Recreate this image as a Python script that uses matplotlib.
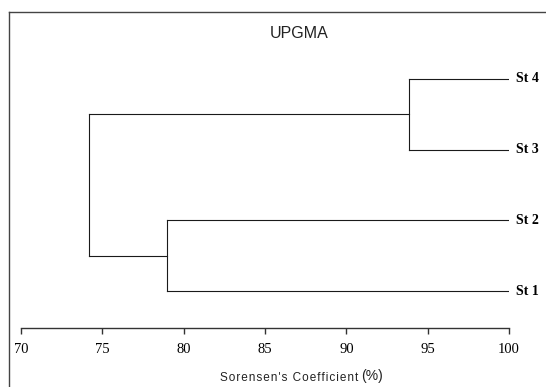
import matplotlib
matplotlib.use('Agg')
import matplotlib.pyplot as plt
from matplotlib.lines import Line2D

# leaves from bottom to top, and the UPGMA merges (child a, child b, similarity %)
stations = ['St 1', 'St 2', 'St 3', 'St 4']
merge_a = ['St 1', 'St 3', 'C1']
merge_b = ['St 2', 'St 4', 'C2']
merge_sim = [79.0, 93.85, 74.2]
merge_name = ['C1', 'C2', 'C3']
xticks = [70, 75, 80, 85, 90, 95, 100]

W, H = 546, 387
fig = plt.figure(figsize=(W / 100, H / 100), dpi=100)

# frame around the plot (runs off the right and bottom edge)
fx, fy = 9 / W, 1 - 12 / H
fig.add_artist(Line2D([fx, fx], [0, fy], color='#444444', lw=1.0))
fig.add_artist(Line2D([fx, 1.0], [fy, fy], color='#444444', lw=1.0))

ax = fig.add_axes([21 / W, 59 / H, 488 / W, 316 / H])
ax.set_xlim(70, 100)
ax.set_ylim(0.477, 4.946)

nodes = {}
for i, s in enumerate(stations):
    nodes[s] = (100.0, i + 1)
    ax.text(100.4, i + 1, s, family='Liberation Serif', fontweight='bold',
            fontsize=10, ha='left', va='center')

lc = '#1a1a1a'
for a, b, h, n in zip(merge_a, merge_b, merge_sim, merge_name):
    xa, ya = nodes[a]
    xb, yb = nodes[b]
    ax.plot([xa, h], [ya, ya], color=lc, lw=0.8)
    ax.plot([xb, h], [yb, yb], color=lc, lw=0.8)
    ax.plot([h, h], [ya, yb], color=lc, lw=0.8)
    nodes[n] = (h, (ya + yb) / 2)

for side in ['left', 'right', 'top']:
    ax.spines[side].set_visible(False)
ax.spines['bottom'].set_color('#333333')
ax.spines['bottom'].set_linewidth(1.0)
ax.set_yticks([])
ax.set_xticks(xticks)
ax.set_xticklabels([str(t) for t in xticks], family='Liberation Serif', fontsize=10.5)
ax.tick_params(axis='x', direction='out', length=4, width=1.0, color='#333333', pad=7)

fig.text(299 / W, 1 - 33 / H, 'UPGMA', family='Liberation Sans', fontsize=11.5,
         ha='center', va='center', color='#222222')
xlab = '\u200a'.join("Sorensen's Coefficient")
fig.text(358 / W, 1 - 378 / H, xlab, family=['Liberation Sans', 'DejaVu Sans'],
         fontsize=8.5, ha='right', va='center', color='#222222')
fig.text(361 / W, 1 - 376 / H, '(%)', family='Liberation Sans', fontsize=10,
         ha='left', va='center', color='#222222')

fig.savefig('out.png', dpi=100)
